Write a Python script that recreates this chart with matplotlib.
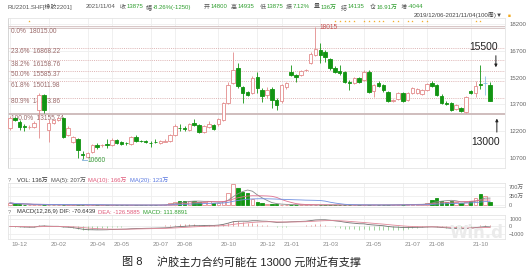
import numpy as np
import pandas as pd
import matplotlib
matplotlib.use('Agg')
import matplotlib.pyplot as plt
from matplotlib.patches import Rectangle

plt.rcParams['font.family'] = ['Liberation Sans', 'Noto Sans CJK SC', 'DejaVu Sans']

W, H = 531, 271

# ---------------------------------------------------------------------------
# Data (weekly candles, 2019/12/06 - 2021/11/04)
# ---------------------------------------------------------------------------

opens = [12380, 12940, 12710, 12470, 12430, 12430, 13380, 14220, 12260, 12660,
         12820, 12940, 11980, 11590, 11760, 10920, 10750, 11030, 11420, 11400,
         11480, 11420, 11700, 11590, 11560, 11480, 11870, 11650, 11640, 11560,
         11620, 11540, 11620, 11650, 11980, 12400, 12380, 12260, 12660, 12540,
         12150, 12430, 12540, 12600, 12820, 13780, 14900, 15740, 14670, 14390,
         14340, 15230, 14500, 14220, 14560, 13940, 13880, 14670, 15510, 15340,
         15340, 15600, 16020, 16460, 16740, 16630, 16240, 15740, 15570, 15510,
         14950, 14900, 15180, 15060, 15510, 14450, 14900, 14780, 14390, 13900,
         14000, 14340, 13940, 14340, 14340, 14280, 14500, 14900, 14780, 14170,
         13780, 13780, 13440, 13500, 13270, 14450, 14340, 14840, 14900, 14800]
highs = [13050, 12990, 12820, 12600, 12540, 12770, 14340, 14280, 12880, 12880,
         12990, 12990, 12490, 11930, 11820, 11090, 11030, 11480, 11540, 11480,
         11760, 11820, 11760, 11650, 11600, 11930, 11980, 11700, 11700, 11650,
         11760, 11700, 11760, 12040, 12600, 12600, 12490, 12660, 12880, 12600,
         12540, 12770, 12600, 12940, 13830, 14950, 16630, 16020, 14730, 14450,
         15290, 15510, 14620, 14670, 14670, 14060, 14840, 14950, 15900, 15400,
         15620, 15680, 16630, 18015, 17140, 16740, 16300, 15850, 15900, 15570,
         15060, 15230, 15230, 15620, 15620, 14840, 15010, 14840, 14450, 14000,
         14390, 14390, 14390, 14670, 14620, 14560, 14900, 15010, 14840, 14280,
         13890, 13830, 13720, 13550, 14170, 14500, 15010, 15900, 15290, 14935]
lows = [12260, 12770, 12260, 12210, 12320, 12380, 11820, 13220, 11590, 12600,
        12770, 11820, 11930, 11540, 10700, 10660, 10700, 10980, 11200, 11310,
        11260, 11370, 11480, 11430, 11400, 11420, 11590, 11590, 11540, 11310,
        11540, 11480, 11590, 11590, 11930, 12210, 12210, 12210, 12490, 12100,
        12100, 12380, 12260, 12490, 12770, 13720, 14840, 14620, 13780, 14170,
        14280, 14340, 13830, 14060, 13500, 13380, 13780, 14560, 15290, 14950,
        15290, 15570, 15960, 16410, 16020, 16070, 15620, 15460, 15340, 14900,
        14500, 14840, 14900, 15010, 14340, 14110, 14670, 14390, 13830, 13830,
        13940, 13830, 13890, 14280, 14280, 14220, 14450, 14670, 14170, 13720,
        13660, 13330, 13380, 13270, 13220, 14280, 14110, 14560, 14220, 13875]
closes = [12940, 12820, 12430, 12430, 12460, 12660, 14220, 13380, 12660, 12820,
          12940, 11870, 12380, 11870, 11140, 10860, 10980, 11420, 11310, 11420,
          11450, 11700, 11540, 11480, 11510, 11870, 11650, 11640, 11620, 11540,
          11590, 11650, 11660, 11980, 12490, 12370, 12320, 12600, 12540, 12150,
          12490, 12600, 12320, 12880, 13780, 14780, 15620, 14730, 14340, 14220,
          15180, 14620, 14170, 14500, 13940, 13660, 14780, 14900, 15340, 15230,
          15570, 15620, 16520, 16800, 16460, 16350, 15740, 15510, 15460, 14950,
          14900, 15180, 14950, 15510, 14390, 14780, 14730, 14500, 13890, 13940,
          14340, 13890, 14340, 14620, 14560, 14500, 14840, 14730, 14220, 13780,
          13720, 13380, 13660, 13330, 14110, 14340, 14730, 14780, 14900, 13875]
# weekly volume, 10k lots (万)
volumes = [90, 50, 40, 25, 20, 15, 25, 15, 15, 10, 10, 15, 10, 10, 15, 15, 10, 10, 8, 8,
           8, 8, 8, 8, 8, 8, 8, 8, 8, 8, 10, 15, 30, 100, 140, 165, 165, 165, 165, 140,
           115, 165, 75, 100, 165, 460, 820, 650, 525, 460, 230, 130, 75, 45, 40, 35, 30, 25, 20, 15,
           15, 12, 12, 12, 15, 15, 12, 12, 10, 10, 10, 10, 10, 10, 12, 12, 12, 15, 15, 20,
           30, 30, 35, 35, 40, 45, 100, 205, 270, 165, 140, 165, 115, 75, 140, 165, 270, 435, 360, 136]

fib_labels = ['0.0%', '23.6%', '38.2%', '50.0%', '61.8%', '80.9%', '100.0%']
fib_values = [18015.00, 16868.22, 16158.76, 15585.37, 15011.98, 14083.86, 13155.74]

price_ticks = [18200, 16700, 15200, 13700, 12200, 10700]
vol_ticks = [0, 350, 700]
vol_tick_labels = ['0', '350万', '700万']
macd_ticks = [-1000, 0, 1000]

date_tick_idx = [0, 8, 16, 21, 29, 34, 43, 51, 56, 64, 73, 81, 86, 95]
date_tick_labels = ['19-12', '20-02', '20-04', '20-05', '20-07', '20-08', '20-10',
                    '20-12', '21-01', '21-03', '21-05', '21-07', '21-08', '21-10']

event_idx = [4, 67, 68, 69, 70, 71, 73, 74, 75, 76, 77, 79, 80, 82, 83, 85, 86, 96, 97]

header = [
    (8, 'RU2201.SHF[橡胶2201]', 'g'), (86, '2021/11/04', 'g'),
    (120, '收', 'g'), (127, '13875', 'v'), (146, '幅', 'g'), (153, '-8.26%(-1250)', 'v'),
    (204, '开', 'g'), (211, '14800', 'v'), (231, '高', 'g'), (238, '14935', 'v'),
    (260, '低', 'g'), (267, '13875', 'v'), (286, '振', 'g'), (293, '7.12%', 'v'),
    (314, '量', 'g'), (321, '136万', 'v'), (341, '结', 'g'), (348, '14135', 'v'),
    (370, '仓', 'g'), (377, '16.91万', 'v'), (401, '增', 'g'), (408, '-4044', 'v'),
]

RED = '#e38c8c'
GREEN = '#129412'
GRID = '#eeeeee'
TXT = '#666666'


def rect(x0, y0, x1, y1):
    """pixel box -> figure fraction rect"""
    return [x0 / W, 1 - y1 / H, (x1 - x0) / W, (y1 - y0) / H]


def ftext(x, y, s, **kw):
    return fig.text(x / W, 1 - y / H, s, **kw)


def chain(items, y, fs):
    """place text pieces left to right, never letting them run into each other"""
    r = fig.canvas.get_renderer()
    end = 0
    for xp, s, col in items:
        xp = max(xp, end + 3)
        t = ftext(xp, y, s, fontsize=fs, color=col, ha='left', va='center')
        end = t.get_window_extent(r).x1


fig = plt.figure(figsize=(W / 100, H / 100), dpi=100)
fig.patch.set_facecolor('white')

n = len(closes)
idx = np.arange(n)
o = np.array(opens); c = np.array(closes)
hi = np.array(highs); lo = np.array(lows)
up = c >= o
XLIM = (-0.5, 102.08)


def style(ax, fs=4.4):
    ax.set_xlim(*XLIM)
    for s in ax.spines.values():
        s.set_color('#e4e4e4')
        s.set_linewidth(0.6)
    ax.yaxis.tick_right()
    ax.tick_params(axis='y', length=0, pad=3, labelsize=fs, labelcolor=TXT)
    ax.tick_params(axis='x', length=0, labelbottom=False)
    ax.set_xticks(date_tick_idx)
    ax.grid(True, color=GRID, lw=0.6)
    ax.set_axisbelow(True)


# ---------------------------------------------------------------------------
# Main candle panel
# ---------------------------------------------------------------------------
ax = fig.add_axes(rect(7.5, 18, 505, 168))
style(ax)
ax.set_ylim(10136, 18536)
ax.set_yticks(price_ticks)
ax.spines['left'].set_color('#cfcfcf')

for k, (lab, val) in enumerate(zip(fib_labels, fib_values)):
    if k == 0:
        ax.axhline(val, color='#cdb7b7', lw=1.8, zorder=1)
        ax.axhline(val, color='white', lw=0.6, zorder=1)
    elif k == len(fib_values) - 1:
        ax.axhline(val, color='#ccb8b8', lw=1.3, zorder=1)
    else:
        ax.axhline(val, color='#ddb3b3', lw=0.7, ls=(0, (1, 1.2)), zorder=1)
    ax.text(0.3, val - 40, f'{lab}  {val:.2f}', fontsize=4.7, color='#9a6a6a',
            va='top', ha='left', zorder=2)

for i in idx:
    col = RED if up[i] else GREEN
    if i == 98:
        col = '#8fc3e6'
    ax.vlines(i, lo[i], hi[i], color=col, lw=0.6, zorder=3)
    b0, b1 = min(o[i], c[i]), max(o[i], c[i])
    fc = 'white' if (up[i] or i == 98) else col
    ax.add_patch(Rectangle((i - 0.36, b0), 0.72, max(b1 - b0, 8), facecolor=fc,
                           edgecolor=col, lw=0.6, zorder=4))

imax = int(np.argmax(hi)); imin = int(np.argmin(lo))
ax.text(imax + 0.9, hi[imax], f'{hi[imax]:.0f}', fontsize=4.7, color='#c85050',
        va='center', ha='left', zorder=5)
ax.plot([imin - 0.2, imin - 0.2, imin + 0.8], [lo[imin], lo[imin] - 90, lo[imin] - 90],
        color='#7fb0d8', lw=0.6, zorder=5)
ax.text(imin + 0.9, lo[imin] - 90, f'{lo[imin]:.0f}', fontsize=4.7, color='#3a9a3a',
        va='center', ha='left', zorder=5)

ax.scatter(event_idx, [18350] * len(event_idx), marker='*', s=3, color='#f2a81d',
           lw=0, zorder=5, clip_on=False)

# support / resistance notes
ax.text(97.7, 16900, '15500', fontsize=7.4, color='#222222', ha='center', va='center')
ax.annotate('', xy=(100.2, 15620), xytext=(100.2, 16580),
            arrowprops=dict(arrowstyle='-|>', color='#222222', lw=0.7,
                            mutation_scale=4))
ax.text(98.1, 11600, '13000', fontsize=7.4, color='#222222', ha='center', va='center')
ax.annotate('', xy=(100.4, 13060), xytext=(100.4, 11990),
            arrowprops=dict(arrowstyle='-|>', color='#222222', lw=0.7,
                            mutation_scale=4))

# ---------------------------------------------------------------------------
# Volume panel
# ---------------------------------------------------------------------------
vol = np.array(volumes, dtype=float)
axv = fig.add_axes(rect(7.5, 183, 505, 207))
style(axv, fs=4.1)
axv.set_ylim(-65, 850)
axv.set_yticks(vol_ticks)
axv.set_yticklabels(vol_tick_labels)
for i in idx:
    col = RED if up[i] else GREEN
    fc = 'white' if up[i] else col
    axv.add_patch(Rectangle((i - 0.36, 0), 0.72, vol[i], facecolor=fc,
                            edgecolor=col, lw=0.6, zorder=3, clip_on=False))
vs = pd.Series(vol)
axv.plot(idx, vs.rolling(5, min_periods=1).mean(), color='#8a8a8a', lw=0.6, zorder=4)
axv.plot(idx, vs.rolling(10, min_periods=1).mean(), color='#e07090', lw=0.6, zorder=4)
axv.plot(idx, vs.rolling(20, min_periods=1).mean(), color='#7090e0', lw=0.6, zorder=4)

# ---------------------------------------------------------------------------
# MACD panel
# ---------------------------------------------------------------------------
cs = pd.Series(c, dtype=float)
dif = cs.ewm(span=12, adjust=False).mean() - cs.ewm(span=26, adjust=False).mean()
dea = dif.ewm(span=9, adjust=False).mean()
hist = 2 * (dif - dea)

axm = fig.add_axes(rect(7.5, 215, 505, 239))
style(axm, fs=3.9)
axm.set_ylim(-1650, 1500)
axm.set_yticks(macd_ticks)
axm.vlines(idx, 0, hist, colors=[RED if h >= 0 else '#8fcf8f' for h in hist], lw=0.6,
           zorder=3)
axm.plot(idx, dif, color='#707070', lw=0.6, zorder=4)
axm.plot(idx, dea, color='#e08898', lw=0.6, zorder=4)

for ti, tl in zip(date_tick_idx, date_tick_labels):
    xp = 7.5 + (ti - XLIM[0]) / (XLIM[1] - XLIM[0]) * 497.5
    ftext(xp + 2, 244, tl, fontsize=4.5, color='#888888', ha='left', va='center')

# ---------------------------------------------------------------------------
# Texts
# ---------------------------------------------------------------------------
for xp, s, kind in header:
    ftext(xp, 7, s, fontsize=4.3, color='#555555' if kind == 'g' else '#2e9e2e',
          ha='left', va='center')
ftext(503, 15.5, '2019/12/06-2021/11/04(100周)▼', fontsize=4.4, color='#444444',
      ha='right', va='center')
ftext(508, 15.5, '■', fontsize=3.5, color='#f2a81d', ha='left', va='center')

chain([(8, '?', '#777777'), (17, 'VOL: 136万', '#333333'), (49, 'MA(5): 207万', '#555555'),
       (87, 'MA(10): 166万', '#e05a7a'), (128, 'MA(20): 123万', '#5a78e0')], 180, 4.2)
chain([(8, '?', '#777777'), (17, 'MACD(12,26,9) DIF: -70.6439', '#333333'),
       (84, 'DEA: -126.5885', '#e05a7a'), (119, 'MACD: 111.8891', '#2e9e2e')], 212, 4.2)

# faint vendor watermark, kept clear of the axis labels
ftext(477, 233, 'Win.d', fontsize=12, color='#ebebeb', ha='center', va='center',
      fontweight='bold', family='DejaVu Sans', zorder=0)

ftext(122, 262.5, '图 8', fontsize=8, color='#222222', ha='left', va='center')
ftext(157, 262.5, '沪胶主力合约可能在 13000 元附近有支撑', fontsize=8, color='#222222',
      ha='left', va='center')

fig.savefig('out.png', dpi=100)
